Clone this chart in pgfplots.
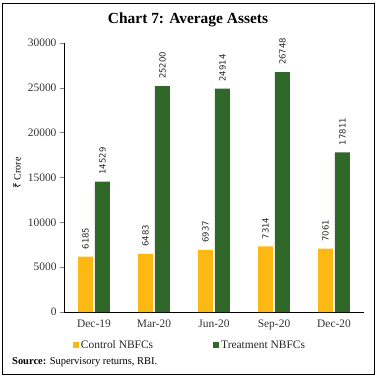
\documentclass[border=0pt]{standalone}
\usepackage{fontspec}
\setmainfont{Liberation Serif}
\newfontfamily\lblfont{DejaVu Sans}
\newfontfamily\rupfont{Noto Sans}
\usepackage{pgfplots}
\pgfplotsset{compat=1.18}
\definecolor{ctrl}{RGB}{253,185,19}
\definecolor{treat}{RGB}{47,104,40}
\begin{document}
\begin{tikzpicture}[x=1bp,y=1bp]
\useasboundingbox (-64,-68) rectangle (314,312);
\draw[line width=0.8bp] (-62,-62) rectangle (310,309);
\begin{axis}[
  at={(0,0)}, anchor=south west,
  scale only axis, width=300bp, height=269bp,
  ymin=0, ymax=30000, xmin=-0.5, xmax=4.5,
  axis x line*=bottom, axis y line*=left,
  axis line style={line width=0.6bp},
  ybar, bar width=15bp,
  xtick={0,1,2,3,4},
  xticklabels={Dec-19,Mar-20,Jun-20,Sep-20,Dec-20},
  x tick style={draw=none},
  extra x ticks={-0.5,0.5,1.5,2.5,3.5,4.5},
  extra x tick labels={},
  extra x tick style={tick style={draw=black, line width=0.6bp}, major tick length=4bp, tick align=outside},
  ytick={0,5000,...,30000},
  y tick style={line width=0.6bp},
  major tick length=4bp, tick align=outside,
  scaled y ticks=false,
  yticklabel style={/pgf/number format/.cd, fixed, 1000 sep={}},
  /pgf/number format/assume math mode=true,
  ticklabel style={font=\fontsize{11.5}{13}\selectfont, text=black!80},
  ylabel={{\rupfont ₹} Crore},
  ylabel style={font=\fontsize{10.5}{12}\selectfont, text=black!80},
  every axis y label/.style={at={(-47bp,139bp)}, rotate=90, anchor=center},
  nodes near coords,
  nodes near coords style={font=\lblfont\fontsize{8.5}{10}\selectfont, rotate=90, anchor=west, inner xsep=7bp, text=black!85,
    /pgf/number format/.cd, fixed, 1000 sep={}},
  legend columns=2,
  legend style={draw=none, at={(0.42,-0.123)}, anchor=center, font=\fontsize{11.5}{13}\selectfont, text=black!85,
    /tikz/every even column/.append style={column sep=58bp}},
  legend image code/.code={\fill[#1] (0bp,-3bp) rectangle (6bp,3bp);},
]
\addplot[fill=ctrl, draw=none] coordinates {(0,6185) (1,6483) (2,6937) (3,7314) (4,7061)};
\addplot[fill=treat, draw=none] coordinates {(0,14529) (1,25200) (2,24914) (3,26748) (4,17811)};
\legend{Control NBFCs, Treatment NBFCs}
\end{axis}
\node[font=\bfseries\fontsize{15.5}{18}\selectfont] at (124,292) {Chart 7: Average Assets};
\node[anchor=west, font=\fontsize{10.5}{12}\selectfont, inner sep=0] at (-52,-50) {\textbf{Source:} Supervisory returns, RBI.};
\end{tikzpicture}
\end{document}
